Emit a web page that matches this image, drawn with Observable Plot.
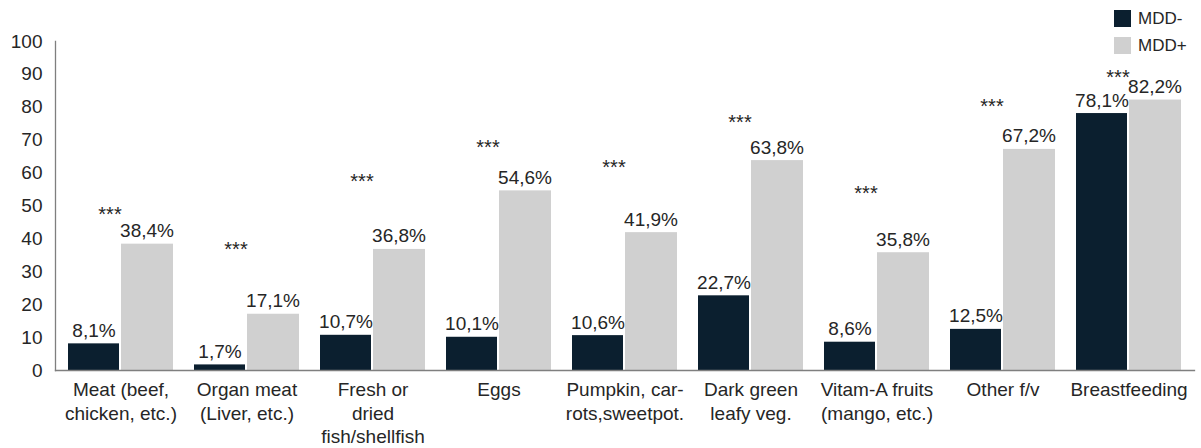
<!DOCTYPE html>
<html>
<head>
<meta charset="utf-8">
<script src="https://cdn.jsdelivr.net/npm/d3@7"></script>
<script src="https://cdn.jsdelivr.net/npm/@observablehq/plot@0.6"></script>
<style>
  html, body { margin: 0; padding: 0; background: #fff; }
  #wrap { position: relative; width: 1201px; height: 448px; font-family: "Liberation Sans", Arial, sans-serif; }
  #legend { position: absolute; left: 1114px; top: 10px; font-size: 17px; color: #262626; }
  .li { display: flex; align-items: center; height: 17px; margin-bottom: 10px; }
  .sw { width: 17px; height: 17px; margin-right: 7px; }
</style>
</head>
<body>
<div id="wrap"><div id="legend"></div></div>
<script>
const categories = [
  "Meat (beef,\nchicken, etc.)",
  "Organ meat\n(Liver, etc.)",
  "Fresh or\ndried\nfish/shellfish",
  "Eggs",
  "Pumpkin, car-\nrots,sweetpot.",
  "Dark green\nleafy veg.",
  "Vitam-A fruits\n(mango, etc.)",
  "Other f/v",
  "Breastfeeding"
];
const seriesNames = ["MDD-", "MDD+"];
const mddMinus = [8.1, 1.7, 10.7, 10.1, 10.6, 22.7, 8.6, 12.5, 78.1];
const mddPlus = [38.4, 17.1, 36.8, 54.6, 41.9, 63.8, 35.8, 67.2, 82.2];
const significance = ["***", "***", "***", "***", "***", "***", "***", "***", "***"];
const starLevel = [48.6, 38, 58.7, 69, 63, 76.6, 55, 81.5, 90.3];
const yTicks = [0, 10, 20, 30, 40, 50, 60, 70, 80, 90, 100];
const colors = ["#0b1f2f", "#d0d0d0"];

const minusRows = categories.map((c, i) => ({cat: c, value: mddMinus[i]}));
const plusRows = categories.map((c, i) => ({cat: c, value: mddPlus[i]}));
const starRows = categories.map((c, i) => ({cat: c, y: starLevel[i], s: significance[i]}));
const fmt = v => v.toFixed(1).replace(".", ",") + "%";
const txt = "#262626";

const chart = Plot.plot({
  width: 1201,
  height: 448,
  marginLeft: 55,
  marginRight: 7,
  marginTop: 41,
  marginBottom: 78,
  style: {fontFamily: "'Liberation Sans', Arial, sans-serif", fontSize: "19px", color: txt, background: "#fff"},
  x: {domain: categories, type: "band", paddingInner: 0.17, paddingOuter: 0.085, axis: null},
  y: {domain: [0, 100], axis: null},
  marks: [
    Plot.barY(minusRows, {x: "cat", y: "value", fill: colors[0], insetRight: 54}),
    Plot.barY(plusRows, {x: "cat", y: "value", fill: colors[1], insetLeft: 53}),
    Plot.text(minusRows, {x: "cat", y: "value", text: d => fmt(d.value), dx: -27, dy: -7, lineAnchor: "bottom", fontSize: 19, fill: txt}),
    Plot.text(plusRows, {x: "cat", y: "value", text: d => fmt(d.value), dx: 26, dy: -7, lineAnchor: "bottom", fontSize: 19, fill: txt}),
    Plot.text(starRows, {x: "cat", y: "y", text: "s", dx: -11, dy: 4, lineAnchor: "middle", fontSize: 20, fill: txt}),
    Plot.axisY({ticks: yTicks, tickSize: 0, tickPadding: 13, fontSize: 19, fill: txt, label: null}),
    Plot.axisX({tickSize: 0, tickPadding: 9, fontSize: 19, fill: txt, label: null, lineHeight: 1.24}),
    Plot.frame({anchor: "left", stroke: "#7f7f7f", strokeWidth: 1.3}),
    Plot.frame({anchor: "bottom", stroke: "#7f7f7f", strokeWidth: 1.3})
  ]
});
const wrap = document.getElementById("wrap");
wrap.insertBefore(chart, wrap.firstChild);
const legend = document.getElementById("legend");
seriesNames.forEach((n, i) => {
  const row = document.createElement("div");
  row.className = "li";
  const sw = document.createElement("span");
  sw.className = "sw";
  sw.style.background = colors[i];
  const t = document.createElement("span");
  t.textContent = n;
  row.appendChild(sw);
  row.appendChild(t);
  legend.appendChild(row);
});
</script>
</body>
</html>
